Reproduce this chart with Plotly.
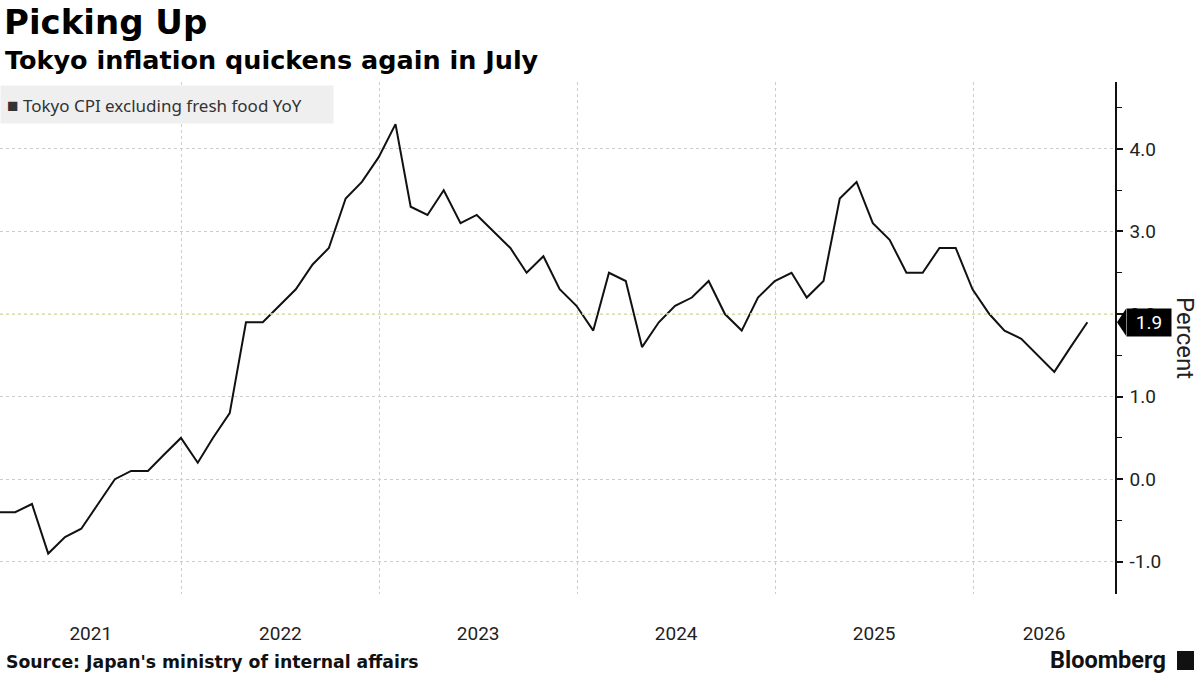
import pandas as pd
import plotly.graph_objects as go

# ---------------- data ----------------
title_text = "Picking Up"
subtitle_text = "Tokyo inflation quickens again in July"
source_text = "Source: Japan's ministry of internal affairs"
series_name = "Tokyo CPI excluding fresh food YoY"
first_month_end = "2021-01-31"
cpi_values = [
    -0.4, -0.4, -0.3, -0.9, -0.7, -0.6, -0.3, 0.0, 0.1, 0.1, 0.3, 0.5,   # 2021
    0.2, 0.5, 0.8, 1.9, 1.9, 2.1, 2.3, 2.6, 2.8, 3.4, 3.6, 3.9,         # 2022
    4.3, 3.3, 3.2, 3.5, 3.1, 3.2, 3.0, 2.8, 2.5, 2.7, 2.3, 2.1,         # 2023
    1.8, 2.5, 2.4, 1.6, 1.9, 2.1, 2.2, 2.4, 2.0, 1.8, 2.2, 2.4,         # 2024
    2.5, 2.2, 2.4, 3.4, 3.6, 3.1, 2.9, 2.5, 2.5, 2.8, 2.8, 2.3,         # 2025
    2.0, 1.8, 1.7, 1.5, 1.3, 1.6, 1.9,                                  # 2026
]
year_labels = [2021, 2022, 2023, 2024, 2025, 2026]
y_tick_values = [-1.0, 0.0, 1.0, 2.0, 3.0, 4.0]
y_tick_labels = ["-1.0", "0.0", "1.0", "2.0", "3.0", "4.0"]
target_level = 2.0
x_range = ["2021-01-31", "2026-09-20"]
y_range = [-1.39, 4.81]

# ---------------- layout helpers ----------------
W, H = 1200, 675
M_L, M_R, M_T, M_B = 0, 85, 82, 81
PLOT_W = W - M_L - M_R
PLOT_H = H - M_T - M_B


def py(px):
    return 1 - (px - M_T) / PLOT_H


def pxx(px):
    return (px - M_L) / PLOT_W


dates = pd.date_range(first_month_end, periods=len(cpi_values), freq="ME")
r0, r1 = pd.Timestamp(x_range[0]), pd.Timestamp(x_range[1])

tick_mid = []
for yr in year_labels:
    s = max(pd.Timestamp(yr, 1, 1), r0)
    e = min(pd.Timestamp(yr + 1, 1, 1), r1)
    tick_mid.append(s + (e - s) / 2)
year_starts = [pd.Timestamp(yr, 1, 1) for yr in year_labels if pd.Timestamp(yr, 1, 1) > r0]

fig = go.Figure()
fig.add_trace(go.Scatter(
    x=dates, y=cpi_values, mode="lines", name=series_name,
    line=dict(color="#111111", width=2), showlegend=False,
))

grid_col = "#cccccc"
fig.update_layout(
    width=W, height=H,
    margin=dict(l=M_L, r=M_R, t=M_T, b=M_B),
    paper_bgcolor="white", plot_bgcolor="white",
    font=dict(family="Roboto, Noto Sans, sans-serif", color="#222222"),
    xaxis=dict(
        range=x_range, type="date",
        tickvals=tick_mid, ticktext=[str(y) for y in year_labels],
        ticks="", showgrid=False, zeroline=False, showline=False,
        tickfont=dict(size=19, color="#222222"),
        ticklabelstandoff=26,
        minor=dict(tickvals=year_starts, showgrid=True, gridcolor=grid_col,
                   griddash="dot", gridwidth=1, ticks=""),
    ),
    yaxis=dict(
        side="right", range=y_range,
        tickvals=y_tick_values, ticktext=y_tick_labels,
        showgrid=True, gridcolor=grid_col, griddash="dot", gridwidth=1,
        zeroline=False, showline=True, linecolor="#111111", linewidth=1.5,
        ticks="outside", ticklen=6, tickwidth=2, tickcolor="#111111",
        tickfont=dict(size=19, color="#222222"),
        ticklabelstandoff=3,
        minor=dict(dtick=0.5, ticks="outside", ticklen=5, tickwidth=1,
                   tickcolor="#111111", showgrid=False),
    ),
)

# target reference line
fig.add_shape(type="line", xref="paper", x0=0, x1=1, yref="y",
              y0=target_level, y1=target_level,
              line=dict(color="#dfe6a6", width=1.5, dash="dot"), layer="above")

last_val = cpi_values[-1]
# last value tag pointer
fig.add_shape(type="path", xref="paper", yref="y",
              xsizemode="pixel", ysizemode="pixel", xanchor=1, yanchor=last_val,
              path="M 2,0 L 11,13.5 L 11,-13.5 Z",
              fillcolor="#000000", line=dict(width=0), layer="above")

annotations = [
    dict(text=f"<b>{title_text}</b>", x=pxx(2), y=py(0), xref="paper", yref="paper",
         xanchor="left", yanchor="top", showarrow=False,
         font=dict(family="DejaVu Sans", size=34, color="#000000")),
    dict(text=f"<b>{subtitle_text}</b>", x=pxx(3), y=py(60), xref="paper", yref="paper",
         xanchor="left", yanchor="middle", showarrow=False,
         font=dict(family="DejaVu Sans", size=25.5, color="#000000")),
    dict(text="<span style='font-size:19px'>■</span> " + series_name,
         x=0, y=py(85), xref="paper", yref="paper",
         xanchor="left", yanchor="top", showarrow=False, align="left",
         bgcolor="#efefef", borderpad=6, width=320, height=25,
         font=dict(family="Noto Sans", size=17, color="#333333")),
    dict(text=f"{last_val:.1f}", x=1, xshift=11, y=last_val, xref="paper", yref="y",
         xanchor="left", yanchor="middle", showarrow=False,
         bgcolor="#000000", borderpad=3, width=38, height=21,
         font=dict(size=19, color="#ffffff")),
    dict(text="Percent", x=1, xshift=70, y=py(338), xref="paper", yref="paper",
         xanchor="center", yanchor="middle", textangle=90, showarrow=False,
         font=dict(size=24, color="#222222")),
    dict(text=f"<b>{source_text}</b>", x=pxx(4), y=py(662), xref="paper", yref="paper",
         xanchor="left", yanchor="middle", showarrow=False,
         font=dict(family="DejaVu Sans", size=17.3, color="#111111")),
    dict(text="<b>Bloomberg</b>", x=pxx(1168), y=py(660), xref="paper", yref="paper",
         xanchor="right", yanchor="middle", showarrow=False,
         font=dict(family="Roboto", size=23.5, color="#111111")),
]
fig.update_layout(annotations=annotations)

# Bloomberg icon
fig.add_shape(type="rect", xref="paper", yref="paper",
              x0=pxx(1177), x1=pxx(1194), y0=py(670), y1=py(651),
              fillcolor="#111111", line=dict(width=0))

fig.write_html("out.html", config={"displayModeBar": False},
               post_script="document.body.style.margin='0';document.body.style.padding='0';")
